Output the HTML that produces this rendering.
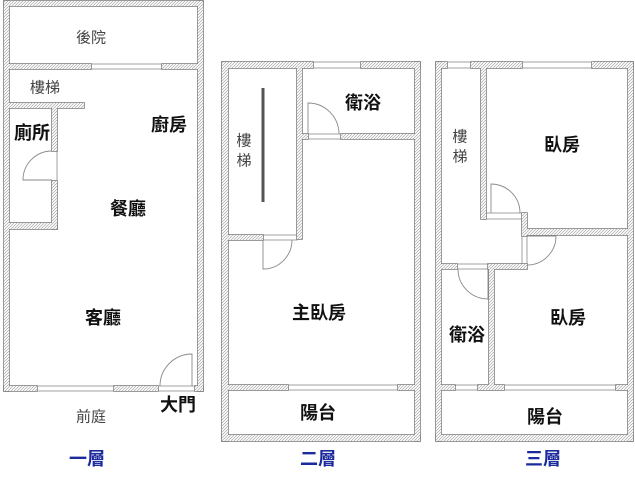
<!DOCTYPE html>
<html><head><meta charset="utf-8"><style>
html,body{margin:0;padding:0;background:#fff;width:635px;height:480px;overflow:hidden}
svg{display:block}
text{font-family:"Liberation Sans","Noto Sans CJK TC",sans-serif;text-anchor:middle;dominant-baseline:central}
.b{font-size:18px;font-weight:bold;fill:#111}
.s{font-size:15px;fill:#444}
.bl{font-size:18px;font-weight:bold;fill:#1b2a9c}
.win rect{fill:#fff;stroke:#8a8a8a;stroke-width:0.8}
.dr{fill:none;stroke:#8a8a8a;stroke-width:0.9}
</style></head><body>
<svg width="635" height="480" viewBox="0 0 635 480" xmlns="http://www.w3.org/2000/svg">
<defs>
<pattern id="h" patternUnits="userSpaceOnUse" width="3" height="3">
<rect width="3" height="3" fill="#fff" stroke="none"/>
<path d="M-1,1 L1,-1 M0,3 L3,0 M2,4 L4,2" stroke="#a8a8a8" stroke-width="0.7" fill="none"/>
</pattern>
<g id="walls">
<!-- Floor 1 -->
<rect x="4" y="1" width="199" height="5"/>
<rect x="4" y="1" width="5" height="390"/>
<rect x="198" y="1" width="5" height="390"/>
<rect x="4" y="386" width="33" height="5"/>
<rect x="114" y="386" width="44" height="5"/>
<rect x="195" y="386" width="8" height="5"/>
<rect x="9" y="64" width="82" height="5"/>
<rect x="162" y="64" width="36" height="5"/>
<rect x="9" y="103" width="75" height="5"/>
<rect x="52" y="108" width="5" height="43"/>
<rect x="52" y="181" width="5" height="48"/>
<rect x="9" y="223" width="48" height="6"/>
<!-- Floor 2 -->
<rect x="222" y="62" width="91" height="6"/>
<rect x="361" y="62" width="59" height="6"/>
<rect x="222" y="62" width="6" height="379"/>
<rect x="415" y="62" width="5" height="379"/>
<rect x="222" y="435" width="198" height="6"/>
<rect x="297" y="68" width="5" height="171"/>
<rect x="228" y="235" width="35" height="5"/>
<rect x="302" y="134" width="6" height="5"/>
<rect x="341" y="134" width="74" height="5"/>
<rect x="228" y="385" width="60" height="5"/>
<rect x="398" y="385" width="17" height="5"/>
<!-- Floor 3 -->
<rect x="436" y="62" width="11" height="6"/>
<rect x="471" y="62" width="51" height="6"/>
<rect x="592" y="62" width="41" height="6"/>
<rect x="436" y="62" width="5" height="379"/>
<rect x="628" y="62" width="5" height="379"/>
<rect x="436" y="435" width="197" height="6"/>
<rect x="481" y="68" width="5" height="151"/>
<rect x="522" y="213" width="5" height="23"/>
<rect x="527" y="229" width="101" height="6"/>
<rect x="441" y="264" width="16" height="5"/>
<rect x="488" y="264" width="39" height="5"/>
<rect x="489" y="269" width="5" height="116"/>
<rect x="441" y="385" width="14" height="5"/>
<rect x="478" y="385" width="26" height="5"/>
<rect x="616" y="385" width="12" height="5"/>
</g>
</defs>

<!-- windows / openings -->
<g class="win">
<rect x="37" y="386" width="77" height="5"/>
<rect x="158" y="386" width="37" height="5"/>
<rect x="91" y="64" width="71" height="5"/>
<rect x="313" y="62" width="48" height="6"/>
<rect x="263" y="235" width="34" height="5"/>
<rect x="308" y="134" width="33" height="5"/>
<rect x="288" y="385" width="110" height="5"/>
<rect x="447" y="62" width="24" height="6"/>
<rect x="522" y="62" width="70" height="6"/>
<rect x="486" y="213" width="36" height="6"/>
<rect x="522" y="236" width="5" height="28"/>
<rect x="457" y="264" width="31" height="5"/>
<rect x="455" y="385" width="23" height="5"/>
<rect x="504" y="385" width="112" height="5"/>
</g>
<line x1="57" y1="151" x2="57" y2="181" stroke="#8a8a8a" stroke-width="0.8"/>

<g fill="url(#h)" stroke="#808080" stroke-width="1.6"><use href="#walls"/></g>
<g fill="url(#h)" stroke="none"><use href="#walls"/></g>

<!-- doors -->
<path class="dr" d="M52,180 L23,180 A29,29 0 0 1 52,151"/>
<path class="dr" d="M192,386 L192,354 A32,32 0 0 0 160,386"/>
<path class="dr" d="M263,240 L263,269 A29,29 0 0 0 292,240"/>
<path class="dr" d="M308,134 L308,103 A31,31 0 0 1 339,134"/>
<path class="dr" d="M491,213 L491,184 A29,29 0 0 1 520,213"/>
<path class="dr" d="M527,236 L556,236 A29,29 0 0 1 527,265"/>
<path class="dr" d="M488,269 L488,299 A30,30 0 0 1 458,269"/>

<!-- stair line -->
<line x1="263" y1="88" x2="263" y2="202" stroke="#555" stroke-width="3"/>

<!-- Floor 1 labels -->
<text class="s" x="91" y="38">後院</text>
<text class="s" x="45" y="88">樓梯</text>
<text class="b" x="32" y="133">廁所</text>
<text class="b" x="169" y="125">廚房</text>
<text class="b" x="128" y="209">餐廳</text>
<text class="b" x="103" y="318">客廳</text>
<text class="s" x="91" y="417">前庭</text>
<text class="b" x="178" y="405">大門</text>
<text class="bl" x="87" y="459">一層</text>

<!-- Floor 2 labels -->
<text class="s" x="244" y="141">樓</text>
<text class="s" x="244" y="161">梯</text>
<text class="b" x="363" y="103">衛浴</text>
<text class="b" x="319" y="313">主臥房</text>
<text class="b" x="318" y="413">陽台</text>
<text class="bl" x="318" y="459">二層</text>

<!-- Floor 3 labels -->
<text class="s" x="460" y="137">樓</text>
<text class="s" x="460" y="157">梯</text>
<text class="b" x="562" y="145">臥房</text>
<text class="b" x="467" y="335">衛浴</text>
<text class="b" x="568" y="318">臥房</text>
<text class="b" x="545" y="417">陽台</text>
<text class="bl" x="543" y="459">三層</text>
</svg>
</body></html>
